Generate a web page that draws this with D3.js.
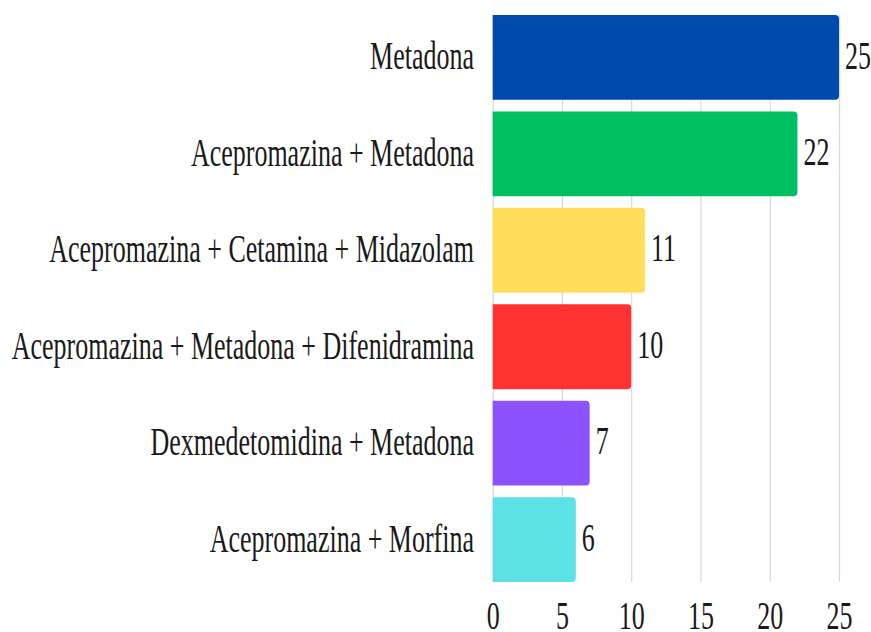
<!DOCTYPE html>
<html>
<head>
<meta charset="utf-8">
<script src="https://cdn.jsdelivr.net/npm/d3@7"></script>
<style>
  html, body { margin: 0; padding: 0; background: #ffffff; }
  svg { display: block; }
  svg text { font-family: 'Liberation Serif', 'Times New Roman', Tinos, 'DejaVu Serif', serif; fill: #1a1a1a; }
</style>
</head>
<body>
<svg id="chart" width="871" height="632"></svg>
<script>
// Protocol combinations and how many times each was used
const categories = [
  "Metadona",
  "Acepromazina + Metadona",
  "Acepromazina + Cetamina + Midazolam",
  "Acepromazina + Metadona + Difenidramina",
  "Dexmedetomidina + Metadona",
  "Acepromazina + Morfina"
];
const counts = [25, 22, 11, 10, 7, 6];
const barColors = ["#004aad", "#00bf63", "#ffde59", "#ff3131", "#8c52ff", "#5ce1e6"];
const tickValues = [0, 5, 10, 15, 20, 25];

const svg = d3.select("#chart");
const serif = "'Liberation Serif', 'Times New Roman', serif";
const fontSize = 40;
const squeeze = 0.65;   // narrow, condensed lettering
const plot = { left: 492.7, right: 839, top: 15, bottom: 582 };

const x = d3.scaleLinear().domain([0, 25]).range([plot.left, plot.right]);
const y = d3.scaleBand().domain(categories).range([plot.top, plot.bottom]).paddingInner(0.12).paddingOuter(0);

// Vertical gridlines + tick labels via the bottom axis
const axis = svg.append("g")
  .attr("transform", `translate(0,${plot.bottom})`)
  .call(d3.axisBottom(x).tickValues(tickValues).tickSize(-(plot.bottom - plot.top)).tickFormat(d3.format("d")));
axis.attr("font-family", serif);
axis.select(".domain").remove();
axis.selectAll(".tick line").attr("stroke", "#d9d9d9").attr("stroke-width", 1.2);
axis.selectAll(".tick text")
  .attr("y", 47)
  .attr("dy", 0)
  .attr("font-size", fontSize)
  .attr("font-family", serif)
  .attr("fill", "#1a1a1a")
  .attr("transform", `scale(${squeeze},1)`);

// Bars with the right-hand corners slightly rounded
function barPath(x0, x1, y0, h, r) {
  r = Math.min(r, (x1 - x0) / 2, h / 2);
  return `M${x0},${y0}H${x1 - r}Q${x1},${y0} ${x1},${y0 + r}V${y0 + h - r}Q${x1},${y0 + h} ${x1 - r},${y0 + h}H${x0}Z`;
}

const rows = categories.map((c, i) => ({ cat: c, value: counts[i], color: barColors[i] }));

svg.append("g").selectAll("path")
  .data(rows)
  .join("path")
  .attr("d", d => barPath(x(0), x(d.value), y(d.cat), y.bandwidth(), 4))
  .attr("fill", d => d.color);

// Category labels, right-aligned against the plot
svg.append("g").selectAll("g")
  .data(rows)
  .join("g")
  .attr("transform", d => `translate(474,${y(d.cat) + y.bandwidth() / 2}) scale(${squeeze},1)`)
  .append("text")
  .attr("text-anchor", "end")
  .attr("dy", "0.3em")
  .attr("font-family", serif)
  .attr("font-size", fontSize)
  .text(d => d.cat);

// Value labels at the end of each bar
svg.append("g").selectAll("g")
  .data(rows)
  .join("g")
  .attr("transform", d => `translate(${x(d.value) + 6},${y(d.cat) + y.bandwidth() / 2}) scale(${squeeze},1)`)
  .append("text")
  .attr("text-anchor", "start")
  .attr("dy", "0.28em")
  .attr("font-family", serif)
  .attr("font-size", fontSize)
  .text(d => d.value);
</script>
</body>
</html>
